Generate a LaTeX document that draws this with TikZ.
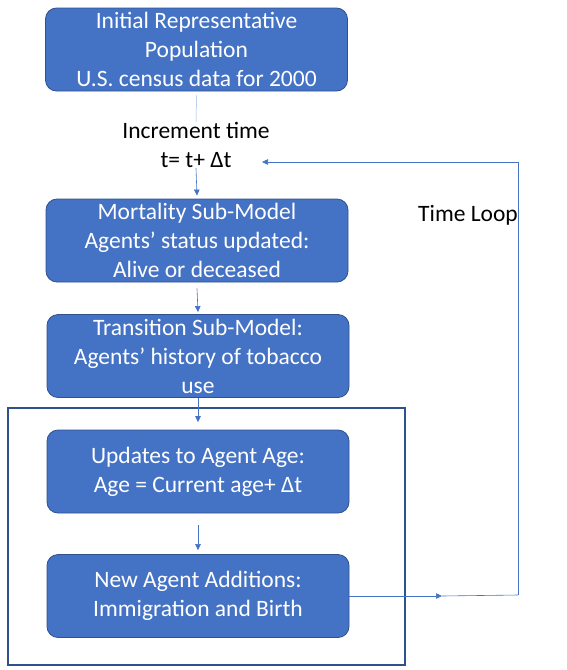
\documentclass[tikz,border=0pt]{standalone}
\usepackage{fontspec}
\setmainfont{Carlito}
\usetikzlibrary{positioning,arrows.meta}
\definecolor{boxfill}{HTML}{4472C4}
\definecolor{boxedge}{HTML}{2F528F}
\definecolor{wire}{HTML}{4472C4}
\definecolor{wirelight}{HTML}{9DB4DE}
\begin{document}
\begin{tikzpicture}[x=1pt, y=-1pt,
  font=\fontsize{23.5}{29}\selectfont,
  stage/.style={draw=boxedge, line width=0.8pt, fill=boxfill, rounded corners=11pt, text=white,
    align=center, minimum width=302pt, minimum height=83pt, inner sep=0pt},
  frame/.style={draw=boxedge, line width=1.6pt, minimum width=397pt, minimum height=257pt, inner sep=0pt},
  arr/.style={-{Triangle[length=6pt, width=5.5pt]}, draw=wire, line width=0.6pt},
  wireline/.style={draw=wire, line width=0.6pt}]
\useasboundingbox (0,0) rectangle (567,670);
% stages
\node[stage] (init)  at (196.5, 49.5) {Initial Representative\\ Population\\ U.S. census data for 2000};
\node[align=center] (incr) at (196, 145) {Increment time\\ t= t+ Δt};
\node[stage] (mort)  at (197, 240.5) {Mortality Sub-Model\\ Agents’ status updated:\\ Alive or deceased};
\node[stage] (trans) at (198, 356) {Transition Sub-Model:\\ Agents’ history of tobacco\\ use};
\node[frame] (grp)   at (206.5, 536.5) {};
\node[stage] (age)   at (198, 471.5) {Updates to Agent Age:\\ Age = Current age+ Δt};
\node[stage] (birth) at (198, 596) {New Agent Additions:\\ Immigration and Birth};
\node (loop) at (468, 215) {Time Loop};
% connectors
\draw[draw=wirelight, line width=0.5pt] ([yshift=-4pt]init.south) -- ([yshift=-3pt]incr.north);
\draw[arr] ([yshift=3pt]incr.south) -- ([yshift=3pt]mort.north);
\draw[arr] ([yshift=-6pt]mort.south) -- ([yshift=2pt]trans.north);
\draw[arr] (trans.south) -- ([yshift=-15pt]grp.north -| trans.south);
\draw[arr] ([yshift=-12pt]age.south) -- ([yshift=4pt]birth.north);
% time loop back to the increment
\coordinate (mid) at (442, 596);
\coordinate (turn) at (518, 595);
\coordinate (back) at (262, 162);
\draw[arr] (birth.east) -- (mid);
\draw[wireline] (mid) -- (turn);
\draw[arr] (turn) |- (back);
\end{tikzpicture}
\end{document}
